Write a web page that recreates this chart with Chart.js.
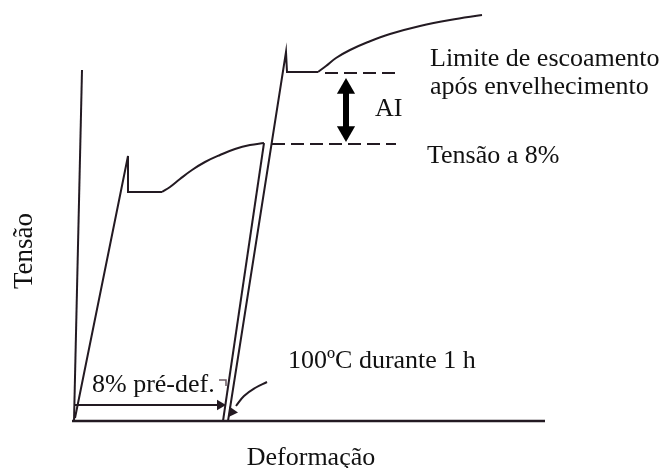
<!DOCTYPE html>
<html>
<head>
<meta charset="utf-8">
<script src="https://cdn.jsdelivr.net/npm/chart.js@4.4.0/dist/chart.umd.min.js"></script>
<style>
  html, body { margin: 0; padding: 0; background: #ffffff; }
  #wrap { width: 668px; height: 468px; }
</style>
</head>
<body>
<div id="wrap"><canvas id="c" width="668" height="468"></canvas></div>
<script>
// ---- Data (strain = x, stress = y, arbitrary schematic units) ----
// Axes of the diagram
const stressAxisX = [-1, 7];
const stressAxisY = [0, 351];
const strainAxisX = [-3, 470];
const strainAxisY = [0, 0];

// First loading (pre-strain of 8%): elastic line, upper yield point, drop, Lüders plateau
const preLoadX = [0, 53, 53, 87];
const preLoadY = [3, 265, 229, 229];
// Work hardening up to 8 %
const preHardenX = [87, 95, 105, 117, 130, 145, 160, 175, 189];
const preHardenY = [229, 234, 242, 251, 259, 266, 272, 276, 278];
// Unloading
const unloadX = [189, 148];
const unloadY = [278, 0];

// Reloading after ageing (100 ºC for 1 h)
const reloadX = [153, 211, 212, 243];
const reloadY = [0, 369, 349, 349];
const reHardenX = [243, 251, 261, 275, 293, 315, 345, 375, 407];
const reHardenY = [349, 355, 363, 371, 379, 387, 395, 401, 406];

// Reference levels (dashed)
const flowStress8X = [197, 321];
const flowStress8Y = [277, 277];
const agedYieldX = [250, 320];
const agedYieldY = [348, 348];

// AI (ageing index) double arrow
const aiShaftX = [271, 271];
const aiShaftY = [290, 332];
const aiHeadX = [271, 271];
const aiHeadY = [332.5, 289.5];
const aiHeadRot = [0, 180];

// 8 % pre-strain arrow
const preArrowX = [0, 144];
const preArrowY = [16, 16];
const preHeadX = [145];
const preHeadY = [16];
const preHeadRot = [90];
const hookX = [144, 151, 151];
const hookY = [41, 41, 35];

// Curved arrow for the ageing treatment
const ageArrowX = [192, 180, 169, 161];
const ageArrowY = [39, 33, 25, 15];
const ageHeadX = [157];
const ageHeadY = [9];
const ageHeadRot = [214];

// Texts
const annotationTexts = ["Limite de escoamento", "após envelhecimento", "AI", "Tensão a 8%", "100ºC durante 1 h", "8% pré-def."];
const annotationX = [355, 355, 300, 352, 213, 17];
const annotationY = [355, 327, 305, 258, 53, 29];
const xAxisTitle = "Deformação";
const yAxisTitle = "Tensão";

// ---- Build ----
const INK = '#231a22';
const zip = (xs, ys) => xs.map((x, i) => ({ x: x, y: ys[i] }));

function line(xs, ys, opts) {
  return Object.assign({
    data: zip(xs, ys),
    showLine: true,
    borderColor: INK,
    borderWidth: 2,
    pointRadius: 0,
    pointHoverRadius: 0,
    tension: 0,
    fill: false
  }, opts || {});
}
function heads(xs, ys, rots, r) {
  return {
    data: zip(xs, ys),
    showLine: false,
    pointStyle: 'triangle',
    pointRadius: r,
    pointRotation: rots,
    backgroundColor: INK,
    borderColor: INK,
    borderWidth: 0,
    pointHoverRadius: r
  };
}

const datasets = [
  line(stressAxisX, stressAxisY, { borderWidth: 2 }),
  line(strainAxisX, strainAxisY, { borderWidth: 2.5 }),
  line(preLoadX, preLoadY),
  line(preHardenX, preHardenY, { tension: 0.4 }),
  line(unloadX, unloadY),
  line(reloadX, reloadY),
  line(reHardenX, reHardenY, { tension: 0.4 }),
  line(flowStress8X, flowStress8Y, { borderDash: [13, 6] }),
  line(agedYieldX, agedYieldY, { borderDash: [13, 6] }),
  line(aiShaftX, aiShaftY, { borderWidth: 6, borderColor: '#000' }),
  Object.assign(heads(aiHeadX, aiHeadY, aiHeadRot, 10.5), { backgroundColor: '#000', borderColor: '#000' }),
  line(preArrowX, preArrowY, { borderWidth: 2 }),
  heads(preHeadX, preHeadY, preHeadRot, 6),
  line(hookX, hookY, { borderWidth: 1.5, borderColor: '#6a5a62' }),
  line(ageArrowX, ageArrowY, { borderWidth: 2, tension: 0.4 }),
  heads(ageHeadX, ageHeadY, ageHeadRot, 6)
];

const textPlugin = {
  id: 'texts',
  afterDatasetsDraw(chart) {
    const ctx = chart.ctx;
    const xs = chart.scales.x, ys = chart.scales.y;
    ctx.save();
    ctx.fillStyle = '#111';
    ctx.font = '26px "Liberation Serif", "Times New Roman", serif';
    ctx.textAlign = 'left';
    ctx.textBaseline = 'alphabetic';
    annotationTexts.forEach((t, i) => {
      ctx.fillText(t, xs.getPixelForValue(annotationX[i]), ys.getPixelForValue(annotationY[i]));
    });
    // x-axis title
    ctx.textAlign = 'center';
    ctx.fillText(xAxisTitle, xs.getPixelForValue(236), ys.getPixelForValue(-44));
    // y-axis title (rotated)
    ctx.font = '27px "Liberation Serif", "Times New Roman", serif';
    ctx.translate(xs.getPixelForValue(-43), ys.getPixelForValue(170));
    ctx.rotate(-Math.PI / 2);
    ctx.fillText(yAxisTitle, 0, 0);
    ctx.restore();
  }
};

new Chart(document.getElementById('c'), {
  type: 'scatter',
  data: { datasets: datasets },
  options: {
    responsive: false,
    devicePixelRatio: 1,
    animation: false,
    layout: { padding: 0, autoPadding: false },
    plugins: { legend: { display: false }, tooltip: { enabled: false } },
    events: [],
    scales: {
      x: { type: 'linear', min: -75, max: 593, display: false },
      y: { type: 'linear', min: -47, max: 421, display: false }
    }
  },
  plugins: [textPlugin]
});
</script>
</body>
</html>
